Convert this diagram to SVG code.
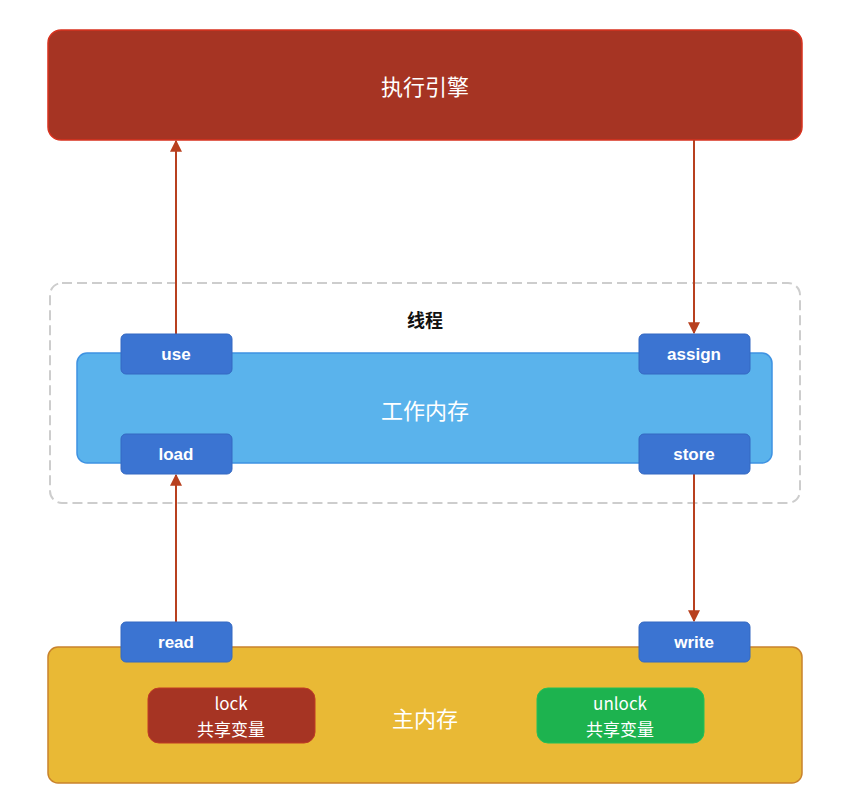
<svg xmlns="http://www.w3.org/2000/svg" width="850" height="808" viewBox="0 0 850 808">
<defs>
<style>
.zh{font-family:"Noto Sans CJK SC","Noto Sans",sans-serif;fill:#fff;text-anchor:middle;dominant-baseline:central}
.op{font-family:"Liberation Sans",Arial,sans-serif;font-weight:bold;font-size:17px;fill:#fff;text-anchor:middle;dominant-baseline:central}
.opbox{fill:#3b74d2;stroke:#3468c2;stroke-width:1}
.conn{stroke:#b8401f;stroke-width:2;fill:none}
</style>
<marker id="ah" viewBox="0 0 10 10" refX="9" refY="5" markerWidth="6" markerHeight="6" orient="auto" markerUnits="strokeWidth">
<path d="M0,0 L10,5 L0,10 z" fill="#b8401f"/>
</marker>
</defs>
<rect width="850" height="808" fill="#fff"/>
<g id="engine">
<rect x="48" y="30" width="754" height="110" rx="13" fill="#a63423" stroke="#d8321f" stroke-width="1.5"/>
<text class="zh" x="425" y="85" font-size="22">执行引擎</text>
</g>
<g id="thread">
<rect x="50" y="283" width="750" height="220" rx="12" fill="none" stroke="#cdcdcd" stroke-width="2" stroke-dasharray="10,5"/>
<text x="425" y="319" font-family="'Noto Sans CJK SC',sans-serif" font-weight="bold" font-size="18" fill="#111" text-anchor="middle" dominant-baseline="central">线程</text>
</g>
<g id="workmem">
<rect x="77" y="353" width="695" height="110" rx="10" fill="#5ab3ec" stroke="#3e92e2" stroke-width="1.5"/>
<text class="zh" x="425" y="409" font-size="22">工作内存</text>
</g>
<g id="mainmem">
<rect x="48" y="647" width="754" height="136" rx="10" fill="#e9b935" stroke="#c9832c" stroke-width="1.5"/>
<text class="zh" x="425" y="717" font-size="22">主内存</text>
</g>
<g id="lock">
<rect x="148" y="688" width="167" height="55" rx="11" fill="#a63423" stroke="#c03a25" stroke-width="1"/>
<text class="zh" x="231" y="702" font-size="17">lock</text>
<text class="zh" x="231" y="728" font-size="17">共享变量</text>
</g>
<g id="unlock">
<rect x="537" y="688" width="167" height="55" rx="11" fill="#1db34f" stroke="#22c058" stroke-width="1"/>
<text class="zh" x="620" y="702" font-size="17">unlock</text>
<text class="zh" x="620" y="728" font-size="17">共享变量</text>
</g>
<g id="connectors">
<line class="conn" x1="176" y1="334" x2="176" y2="141" marker-end="url(#ah)"/>
<line class="conn" x1="694" y1="140" x2="694" y2="333" marker-end="url(#ah)"/>
<line class="conn" x1="176" y1="622" x2="176" y2="475" marker-end="url(#ah)"/>
<line class="conn" x1="694" y1="474" x2="694" y2="621" marker-end="url(#ah)"/>
</g>
<g id="use"><rect class="opbox" x="121" y="334" width="111" height="40" rx="5"/><text class="op" x="176" y="354">use</text></g>
<g id="assign"><rect class="opbox" x="639" y="334" width="111" height="40" rx="5"/><text class="op" x="694" y="354">assign</text></g>
<g id="load"><rect class="opbox" x="121" y="434" width="111" height="40" rx="5"/><text class="op" x="176" y="454">load</text></g>
<g id="store"><rect class="opbox" x="639" y="434" width="111" height="40" rx="5"/><text class="op" x="694" y="454">store</text></g>
<g id="read"><rect class="opbox" x="121" y="622" width="111" height="40" rx="5"/><text class="op" x="176" y="642">read</text></g>
<g id="write"><rect class="opbox" x="639" y="622" width="111" height="40" rx="5"/><text class="op" x="694" y="642">write</text></g>
</svg>
